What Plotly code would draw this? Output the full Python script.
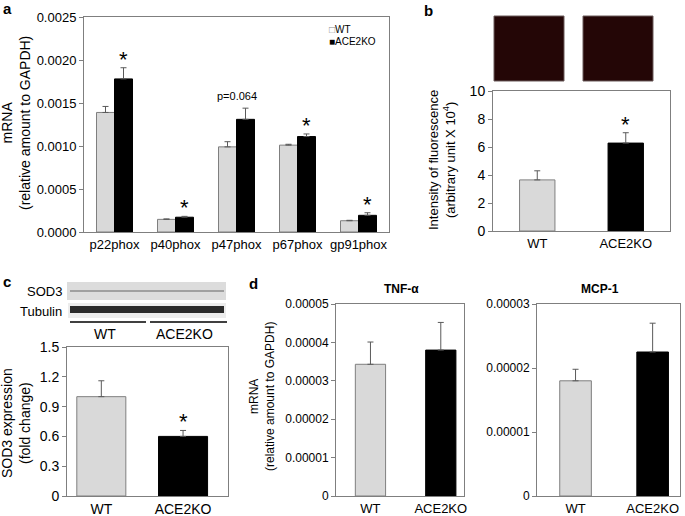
import plotly.graph_objects as go

# ---------------- data ----------------
genes = ["p22phox", "p40phox", "p47phox", "p67phox", "gp91phox"]
wt_nox = [0.00139, 0.000147, 0.00099, 0.00101, 0.000131]
wt_nox_err = [0.00007, 0.000005, 0.00006, 0.00001, 0.000005]
ko_nox = [0.00178, 0.000172, 0.00131, 0.00111, 0.000194]
ko_nox_err = [0.00013, 0.00001, 0.00013, 0.00003, 0.00003]
nox_ticks = [0, 0.0005, 0.0010, 0.0015, 0.0020, 0.0025]

groups = ["WT", "ACE2KO"]
fluor = [3.65, 6.28]
fluor_err = [0.65, 0.74]

sod3 = [1.0, 0.6]
sod3_err = [0.16, 0.06]

tnf = [3.43e-5, 3.80e-5]
tnf_err = [0.58e-5, 0.72e-5]
tnf_ticks = [0, 1e-5, 2e-5, 3e-5, 4e-5, 5e-5]
tnf_ticktext = ["0", "0.00001", "0.00002", "0.00003", "0.00004", "0.00005"]

mcp = [1.80e-5, 2.25e-5]
mcp_err = [0.18e-5, 0.45e-5]
mcp_ticks = [0, 1e-5, 2e-5, 3e-5]
mcp_ticktext = ["0", "0.00001", "0.00002", "0.00003"]

# ---------------- style ----------------
FONT = "Arial, Liberation Sans, sans-serif"
WT_C = "#d9d9d9"
KO_C = "#000000"
EDGE = "#7f7f7f"
ERR_C = "#5a5a5a"
W, H = 685, 516


def px_x(x):
    return x / W


def px_y(y):
    return 1 - y / H


def err(arr):
    return dict(type="data", array=arr, arrayminus=[0] * len(arr), symmetric=False,
                color=ERR_C, thickness=1, width=3)


fig = go.Figure()

# Panel a
fig.add_trace(go.Bar(x=genes, y=wt_nox, error_y=err(wt_nox_err), name="WT",
                     marker=dict(color=WT_C, line=dict(color=EDGE, width=1)),
                     xaxis="x", yaxis="y", showlegend=False))
fig.add_trace(go.Bar(x=genes, y=ko_nox, error_y=err(ko_nox_err), name="ACE2KO",
                     marker=dict(color=KO_C, line=dict(color=KO_C, width=1)),
                     xaxis="x", yaxis="y", showlegend=False))

# Panels b, c, d: one bar per group
colors2 = [WT_C, KO_C]
edges2 = [EDGE, KO_C]
panels = [("x2", "y2", fluor, fluor_err, 0.40),
          ("x3", "y3", sod3, sod3_err, 0.60),
          ("x4", "y4", tnf, tnf_err, 0.43),
          ("x5", "y5", mcp, mcp_err, 0.41)]
for xa, ya, vals, errs, wd in panels:
    fig.add_trace(go.Bar(x=groups, y=vals, error_y=err(errs), width=wd,
                         marker=dict(color=colors2, line=dict(color=edges2, width=1)),
                         xaxis=xa, yaxis=ya, showlegend=False))


def yax(domain_px_y, rng, **kw):
    d = dict(domain=[px_y(domain_px_y[1]), px_y(domain_px_y[0])], range=rng,
             showline=True, mirror=True, linecolor=EDGE, linewidth=1,
             ticks="outside", ticklen=4, tickcolor=EDGE, showgrid=False,
             zeroline=False, automargin=False,
             tickfont=dict(family=FONT, size=13, color="#000"))
    d.update(kw)
    return d


def xax(domain_px_x, rng, size=13, anchor="y"):
    return dict(domain=[px_x(domain_px_x[0]), px_x(domain_px_x[1])], range=rng,
                showline=True, mirror=True, linecolor=EDGE, linewidth=1,
                ticks="", showgrid=False, zeroline=False, anchor=anchor,
                automargin=False,
                tickfont=dict(family=FONT, size=size, color="#000"))


fig.update_layout(
    template="none",
    width=W, height=H, margin=dict(l=0, r=0, t=0, b=0, pad=0),
    paper_bgcolor="white", plot_bgcolor="white",
    barmode="group", bargap=0.41, bargroupgap=0,
    font=dict(family=FONT, color="#000"),
    xaxis=xax((84, 389), [-0.5, 4.5], size=13, anchor="y"),
    yaxis=yax((17, 232), [0, 0.0025], tickvals=nox_ticks, tickformat=".4f",
              anchor="x"),
    xaxis2=xax((493, 670), [-0.5, 1.5], size=13, anchor="y2"),
    yaxis2=yax((91, 231), [0, 10], dtick=2, anchor="x2",
               tickfont=dict(family=FONT, size=14, color="#000")),
    xaxis3=xax((67, 228), [-0.42, 1.55], size=14, anchor="y3"),
    yaxis3=yax((347, 496), [0, 1.5], dtick=0.3, anchor="x3",
               tickfont=dict(family=FONT, size=14, color="#000")),
    xaxis4=xax((336, 464), [-0.49, 1.33], size=13, anchor="y4"),
    yaxis4=yax((304, 496), [0, 5e-5], tickvals=tnf_ticks, ticktext=tnf_ticktext,
               anchor="x4", tickfont=dict(family=FONT, size=12, color="#000")),
    xaxis5=xax((537, 680), [-0.5, 1.355], size=13, anchor="y5"),
    yaxis5=yax((304, 496), [0, 3e-5], tickvals=mcp_ticks, ticktext=mcp_ticktext,
               anchor="x5", tickfont=dict(family=FONT, size=12, color="#000")),
)

ann = []


def star(xref, yref, x, y, shift=2):
    ann.append(dict(text="*", x=x, y=y, xref=xref, yref=yref, showarrow=False,
                    xanchor="center", yanchor="bottom", yshift=shift,
                    font=dict(family=FONT, size=22, color="#000")))


def ptext(txt, x, y, size, xanchor="center", bold=False):
    ann.append(dict(text=("<b>%s</b>" % txt) if bold else txt, x=px_x(x), y=px_y(y),
                    xref="paper", yref="paper", xanchor=xanchor, yanchor="middle",
                    align="left", showarrow=False,
                    font=dict(family=FONT, size=size, color="#000")))


# asterisks panel a (on KO bars)
ko_off = (1 - 0.41) / 4
for i in [0, 1, 3, 4]:
    star("x", "y", i + ko_off, ko_nox[i] + ko_nox_err[i], shift=-6)
ann.append(dict(text="p=0.064", x=2, y=ko_nox[2] + ko_nox_err[2], xref="x", yref="y",
                showarrow=False, xanchor="center", yanchor="bottom", yshift=4,
                font=dict(family=FONT, size=11, color="#000")))
star("x2", "y2", 1, fluor[1] + fluor_err[1], shift=-6)
star("x3", "y3", 1, sod3[1] + sod3_err[1], shift=-6)

# legend (panel a)
ptext("<span style='color:#8a8a8a'>□</span>WT", 327, 30, 10, xanchor="left")
ptext("■ACE2KO", 327, 41, 10, xanchor="left")


# axis titles
def vtitle(text, x, y, size):
    ann.append(dict(text=text, x=px_x(x), y=px_y(y), xref="paper", yref="paper",
                    textangle=-90, showarrow=False, xanchor="center", yanchor="middle",
                    font=dict(family=FONT, size=size, color="#000")))


vtitle("mRNA<br>(relative amount to GAPDH)", 16, 123, 14)
vtitle("Intensity of fluorescence<br>(arbitrary unit X 10<sup>4</sup>)", 442, 160, 13)
vtitle("SOD3 expression<br>(fold change)", 16, 423, 14)
vtitle("mRNA<br>(relative amount to GAPDH)", 262, 397, 12)

# panel titles d
ptext("TNF-α", 401, 289, 12, bold=True)
ptext("MCP-1", 600, 289, 12, bold=True)

# panel letters
for txt, x, y in [("a", 7, 8), ("b", 428, 10), ("c", 7, 281), ("d", 253, 283)]:
    ptext(txt, x, y, 15, bold=True)

# blot labels panel c
ptext("SOD3", 64, 291, 13, xanchor="right")
ptext("Tubulin", 64, 311, 13, xanchor="right")
ptext("WT", 105, 334, 14)
ptext("ACE2KO", 184, 334, 14)

fig.update_layout(annotations=ann)

# image placeholders (fluorescence micrographs and western blot)
shapes = []
for x0, x1 in [(494, 564), (583, 653)]:
    shapes.append(dict(type="rect", xref="paper", yref="paper", x0=px_x(x0), x1=px_x(x1),
                       y0=px_y(81), y1=px_y(16), fillcolor="#240606",
                       line=dict(color="#6a5a5a", width=1), layer="above"))
shapes.append(dict(type="rect", xref="paper", yref="paper", x0=px_x(67), x1=px_x(226),
                   y0=px_y(300), y1=px_y(282), fillcolor="#dcdcdc", line=dict(width=0)))
shapes.append(dict(type="line", xref="paper", yref="paper", x0=px_x(70), x1=px_x(224),
                   y0=px_y(291), y1=px_y(291), line=dict(color="#a0a0a0", width=2)))
shapes.append(dict(type="rect", xref="paper", yref="paper", x0=px_x(68), x1=px_x(226),
                   y0=px_y(318), y1=px_y(303), fillcolor="#ececec", line=dict(width=0)))
shapes.append(dict(type="rect", xref="paper", yref="paper", x0=px_x(70), x1=px_x(224),
                   y0=px_y(313), y1=px_y(306), fillcolor="#2a2a2a", line=dict(width=0)))
for x0, x1 in [(70, 146), (150, 227)]:
    shapes.append(dict(type="line", xref="paper", yref="paper", x0=px_x(x0), x1=px_x(x1),
                       y0=px_y(322), y1=px_y(322), line=dict(color="#000", width=1.5)))
fig.update_layout(shapes=shapes)

fig.write_html("out.html", config={"displayModeBar": False},
               post_script="document.body.style.margin='0';document.body.style.padding='0';")
